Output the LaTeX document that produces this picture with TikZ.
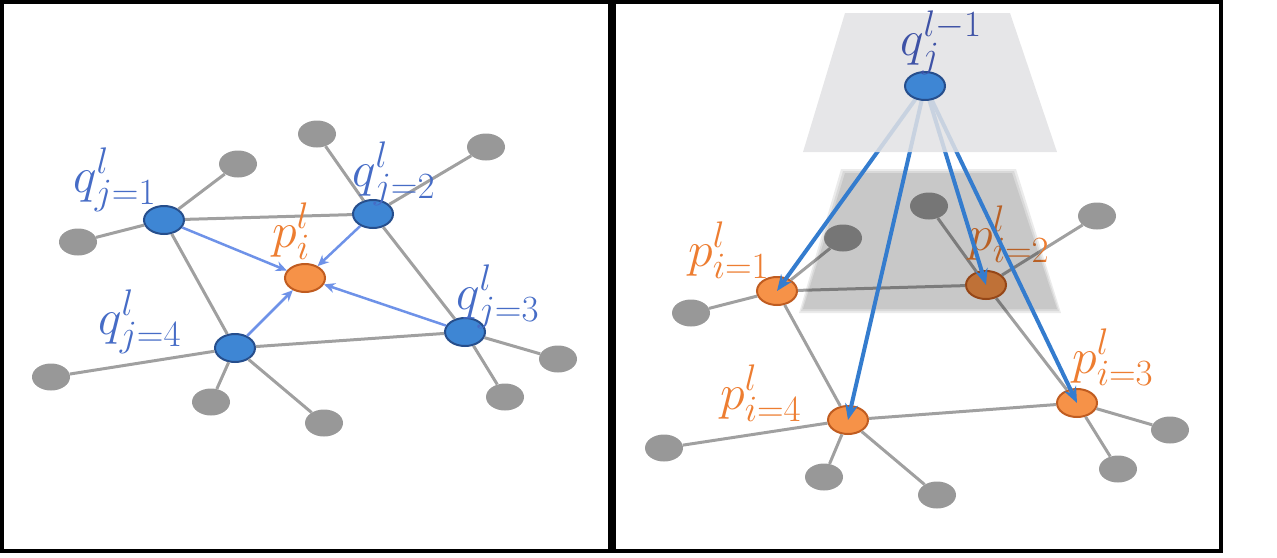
\RequirePackage{fix-cm}
\documentclass[tikz,border=0pt]{standalone}
\usetikzlibrary{shapes.geometric}
\usetikzlibrary{arrows.meta}
\definecolor{qfill}{RGB}{62,134,212}
\definecolor{qline}{RGB}{38,78,140}
\definecolor{pfill}{RGB}{246,146,72}
\definecolor{pline}{RGB}{192,92,32}
\definecolor{leafgray}{RGB}{152,152,152}
\definecolor{edgegray}{RGB}{160,160,160}
\definecolor{pullblue}{RGB}{110,146,232}
\definecolor{pushblue}{RGB}{52,124,206}
\definecolor{qtext}{RGB}{70,108,198}
\definecolor{qdark}{RGB}{62,82,166}
\definecolor{ptext}{RGB}{237,125,49}
\definecolor{veilgray}{RGB}{226,226,228}
\DeclareMathSizes{50}{50}{37}{28}
\newcommand*{\lblsize}{\fontsize{50}{56}\selectfont}
\pgfdeclarelayer{front}
\pgfsetlayers{main,front}
\tikzset{
    qnode/.style = {ellipse, draw=qline, fill=qfill, line width=2pt, minimum width=40pt, minimum height=28pt, inner sep=0pt},
    pnode/.style = {ellipse, draw=pline, fill=pfill, line width=2pt, minimum width=40pt, minimum height=28pt, inner sep=0pt},
    leaf/.style  = {ellipse, fill=leafgray, minimum width=38pt, minimum height=27pt, inner sep=0pt},
    edge/.style  = {draw=edgegray, line width=3pt},
    pull/.style  = {draw=pullblue, line width=2.5pt, -{Stealth[length=11pt,width=10pt]}},
    push/.style  = {draw=pushblue, line width=4pt, -{Stealth[length=16pt,width=13pt]}},
    qlbl/.style  = {anchor=base west, inner sep=0pt, text=qtext, font=\lblsize},
    plbl/.style  = {anchor=base west, inner sep=0pt, text=ptext, font=\lblsize},
}

\begin{document}
\begin{tikzpicture}[x=1pt, y=-1pt]
    \useasboundingbox (0,0) rectangle (1277,557);
    \draw [line width=4pt] (2,2) rectangle (609.5,550.7);
    \draw [line width=4pt] (614,2) rectangle (1221,550.7);

    % left panel: neighbours of layer l pulled into p_i
        \node [qnode] (q1) at (164,220) {};
        \node [qnode] (q2) at (373,214) {};
        \node [qnode] (q3) at (465,332) {};
        \node [qnode] (q4) at (235,348) {};
        \node [pnode] (pi) at (305,278) {};
        \node [leaf] (a1) at (238,164) {};
        \node [leaf] (a2) at ( 78,242) {};
        \node [leaf] (a3) at (317,134) {};
        \node [leaf] (a4) at (486,147) {};
        \node [leaf] (a5) at (558,359) {};
        \node [leaf] (a6) at (505,397) {};
        \node [leaf] (a7) at ( 51,377) {};
        \node [leaf] (a8) at (211,402) {};
        \node [leaf] (a9) at (324,423) {};
        \foreach \u/\v in {q1/q2,q2/q3,q3/q4,q4/q1,q1/a1,q1/a2,q2/a3,q2/a4,q3/a5,q3/a6,q4/a7,q4/a8,q4/a9}
            \draw [edge] (\u) -- (\v);
        \foreach \u in {q1,q2,q3,q4}
            \draw [pull] (\u) -- (pi);
        \node [qlbl] (lq1) at ( 73,192) {$q_{j=1}^{l}$};
        \node [qlbl] (lq2) at (352,186) {$q_{j=2}^{l}$};
        \node [qlbl] (lq3) at (456,309) {$q_{j=3}^{l}$};
        \node [qlbl] (lq4) at ( 98,334) {$q_{j=4}^{l}$};
        \node [plbl] (lpi) at (272,247) {$p_{i}^{l}$};

    % right panel: one node of layer l-1 pushed down to layer l
        \node [pnode] (r1) at ( 777,291) {};
        \node [pnode] (r2) at ( 986,285) {};
        \node [pnode] (r3) at (1077,403) {};
        \node [pnode] (r4) at ( 848,420) {};
        \node [leaf] (b1) at ( 843,238) {};
        \node [leaf] (b2) at ( 691,313) {};
        \node [leaf] (b3) at ( 929,206) {};
        \node [leaf] (b4) at (1097,216) {};
        \node [leaf] (b5) at (1170,430) {};
        \node [leaf] (b6) at (1118,469) {};
        \node [leaf] (b7) at ( 664,448) {};
        \node [leaf] (b8) at ( 824,477) {};
        \node [leaf] (b9) at ( 937,495) {};
        \foreach \u/\v in {r1/r2,r2/r3,r3/r4,r4/r1,r1/b1,r1/b2,r2/b3,r2/b4,r3/b5,r3/b6,r4/b7,r4/b8,r4/b9}
            \draw [edge] (\u) -- (\v);
        \node [plbl] (lr1) at ( 688,266) {$p_{i=1}^{l}$};
        \node [plbl] (lr2) at ( 968,250) {$p_{i=2}^{l}$};
        \node [plbl] (lr3) at (1072,373) {$p_{i=3}^{l}$};
        \node [plbl] (lr4) at ( 720,409) {$p_{i=4}^{l}$};
        \foreach \d in {0,2,4}
            \fill [black, opacity=0.08] ({845-\d},{173-\d}) -- ({1012+\d},{173-\d}) -- ({1057+\d},{309+\d}) -- ({803-\d},{309+\d}) -- cycle;
        \begin{pgfonlayer}{front}
            \node [qnode] (qt) at (925,86) {};
            \node [qlbl, text=qdark] (lqt) at (900,55) {$q_{j}^{l-1}$};
        \end{pgfonlayer}
        \foreach \v in {r1,r2,r3,r4}
            \draw [push] (qt) -- (\v.center);
        \fill [veilgray, opacity=0.85] (845,13) -- (1010,13) -- (1057,152) -- (803,152) -- cycle;
        %\draw [veilgray] (803,152) -- (1057,152);
\end{tikzpicture}
\end{document}
